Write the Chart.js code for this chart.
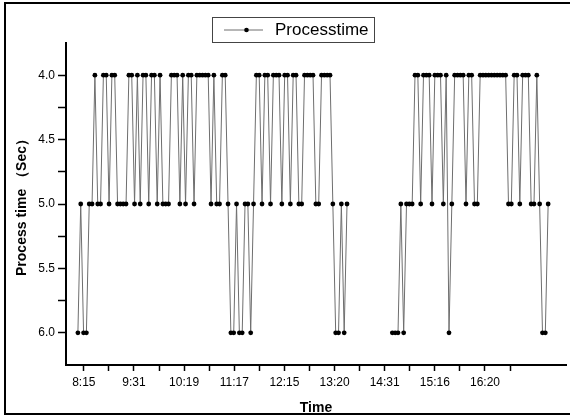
<!DOCTYPE html>
<html>
<head>
<meta charset="utf-8">
<script src="https://cdn.jsdelivr.net/npm/chart.js@4.4.0/dist/chart.umd.min.js"></script>
<style>
  html, body { margin: 0; padding: 0; background: #fff; overflow: hidden; }
  #wrap { position: relative; width: 570px; height: 417px; overflow: hidden; }
  #frame { position: absolute; left: 4px; top: 2px; width: 600px; height: 413px;
           border: 2px solid #000; box-sizing: border-box; pointer-events: none; }
</style>
</head>
<body>
<div id="wrap">
  <canvas id="chart" width="570" height="417"></canvas>
  <div id="frame"></div>
</div>
<script>
// time labels under the x axis
const timeLabels = ["8:15", "9:31", "10:19", "11:17", "12:15", "13:20", "14:31", "15:16", "16:20"];

// process time per sample (sec), null = no record
const processTime = [
  6, 5, 6, 6, 5, 5, 4, 5, 5, 4,
  4, 5, 4, 4, 5, 5, 5, 5, 4, 4,
  5, 4, 5, 4, 4, 5, 4, 4, 5, 4,
  5, 5, 5, 4, 4, 4, 5, 4, 5, 4,
  4, 5, 4, 4, 4, 4, 4, 5, 4, 5,
  5, 4, 4, 5, 6, 6, 5, 6, 6, 5,
  5, 6, 5, 4, 4, 5, 4, 4, 5, 4,
  4, 4, 5, 4, 4, 5, 4, 4, 5, 5,
  4, 4, 4, 4, 5, 5, 4, 4, 4, 4,
  5, 6, 6, 5, 6, 5,
  null, null, null, null, null, null, null, null, null, null, null, null, null, null, null,
  6, 6, 6, 5, 6, 5, 5, 5, 4, 4,
  5, 4, 4, 4, 5, 4, 4, 4, 5, 4,
  6, 5, 4, 4, 4, 4, 5, 4, 4, 5,
  5, 4, 4, 4, 4, 4, 4, 4, 4, 4,
  4, 5, 5, 4, 4, 5, 4, 4, 4, 5,
  5, 4, 5, 6, 6, 5
];

const seriesName = "Processtime";
const yTickValues = [4.0, 4.25, 4.5, 4.75, 5.0, 5.25, 5.5, 5.75, 6.0];

// sample index where the first time label sits, and samples per label
const firstLabelAt = 2.1;
const labelStep = 17.7;

const points = processTime.map(function (v, i) {
  return { x: i, y: v };
});

// legend drawn as a boxed entry like the original plot
const legendBox = {
  id: "legendBox",
  afterDraw: function (chart) {
    const c = chart.ctx;
    const ds = chart.data.datasets[0];
    c.save();
    c.strokeStyle = "#444";
    c.lineWidth = 1;
    c.strokeRect(212.5, 17.5, 162, 25);
    c.strokeStyle = ds.borderColor;
    c.beginPath();
    c.moveTo(224, 30);
    c.lineTo(263, 30);
    c.stroke();
    c.fillStyle = "#000";
    c.beginPath();
    c.arc(246.5, 30, 2.3, 0, Math.PI * 2);
    c.fill();
    c.font = "17px 'Liberation Sans', Arial, sans-serif";
    c.textBaseline = "middle";
    c.fillText(ds.label, 275, 30.5);
    c.restore();
  },
};

const ctx = document.getElementById("chart").getContext("2d");
const chart = new Chart(ctx, {
  type: "line",
  data: {
    datasets: [
      {
        label: seriesName,
        data: points,
        borderColor: "#6e6e6e",
        borderWidth: 1,
        pointRadius: 2.4,
        pointBackgroundColor: "#000",
        pointBorderWidth: 0,
        spanGaps: false,
        tension: 0,
      },
    ],
  },
  options: {
    responsive: false,
    animation: false,
    layout: { padding: { top: 43, left: 0, right: 0, bottom: 0 } },
    plugins: {
      legend: { display: false },
      tooltip: { enabled: false },
    },
    scales: {
      x: {
        type: "linear",
        min: -4.2,
        max: 172.3,
        afterBuildTicks: function (axis) {
          const t = [];
          for (let k = 0; k < timeLabels.length; k++) {
            t.push({ value: firstLabelAt + k * labelStep });
            t.push({ value: firstLabelAt + (k + 0.5) * labelStep });
          }
          axis.ticks = t;
        },
        ticks: {
          autoSkip: false,
          maxRotation: 0,
          color: "#000",
          padding: 4,
          font: { family: "'Liberation Sans', Arial, sans-serif", size: 12 },
          callback: function (value, index) {
            return index % 2 === 0 ? timeLabels[index / 2] : "";
          },
        },
        grid: { drawOnChartArea: false, tickLength: 6, tickColor: "#000", tickWidth: 1.5 },
        border: { color: "#000", width: 2 },
        title: {
          display: true,
          text: "Time",
          color: "#000",
          font: { family: "'Liberation Sans', Arial, sans-serif", size: 14, weight: "bold" },
          padding: { top: 5, bottom: 0 },
        },
        afterFit: function (scale) {
          scale.height = 52;
        },
      },
      y: {
        reverse: true,
        min: 3.75,
        max: 6.25,
        afterBuildTicks: function (axis) {
          axis.ticks = yTickValues.map(function (v) {
            return { value: v };
          });
        },
        ticks: {
          autoSkip: false,
          color: "#000",
          padding: 3,
          font: { family: "'Liberation Sans', Arial, sans-serif", size: 12 },
          callback: function (value) {
            return Math.abs(value * 2 - Math.round(value * 2)) < 1e-6 ? value.toFixed(1) : "";
          },
        },
        grid: { drawOnChartArea: false, tickLength: 8, tickColor: "#000", tickWidth: 1.5 },
        border: { color: "#000", width: 2 },
        title: {
          display: true,
          text: "Process time （Sec）",
          color: "#000",
          font: { family: "'Liberation Sans', Arial, sans-serif", size: 14, weight: "bold" },
          padding: { top: 14, bottom: 0 },
        },
        afterFit: function (scale) {
          scale.width = 66;
        },
      },
    },
  },
  plugins: [legendBox],
});
</script>
</body>
</html>
